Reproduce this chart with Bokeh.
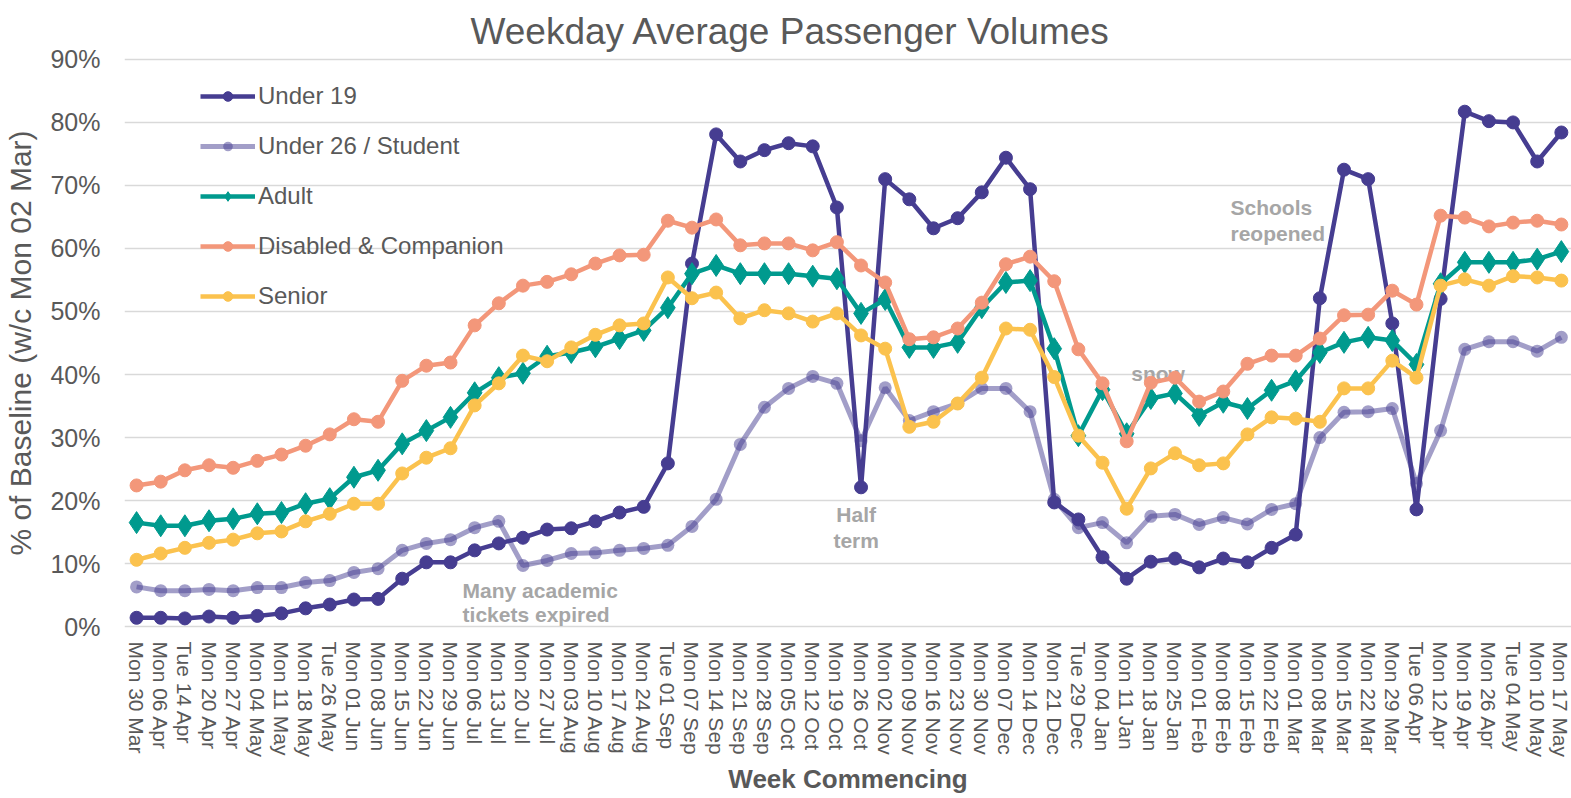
from bokeh.plotting import figure
from bokeh.models import (Range1d, FixedTicker, PrintfTickFormatter, Legend, LegendItem, Label)
from bokeh.embed import file_html
from bokeh.resources import INLINE

weeks = ["Mon 30 Mar", "Mon 06 Apr", "Tue 14 Apr", "Mon 20 Apr", "Mon 27 Apr", "Mon 04 May",
         "Mon 11 May", "Mon 18 May", "Tue 26 May", "Mon 01 Jun", "Mon 08 Jun", "Mon 15 Jun",
         "Mon 22 Jun", "Mon 29 Jun", "Mon 06 Jul", "Mon 13 Jul", "Mon 20 Jul", "Mon 27 Jul",
         "Mon 03 Aug", "Mon 10 Aug", "Mon 17 Aug", "Mon 24 Aug", "Tue 01 Sep", "Mon 07 Sep",
         "Mon 14 Sep", "Mon 21 Sep", "Mon 28 Sep", "Mon 05 Oct", "Mon 12 Oct", "Mon 19 Oct",
         "Mon 26 Oct", "Mon 02 Nov", "Mon 09 Nov", "Mon 16 Nov", "Mon 23 Nov", "Mon 30 Nov",
         "Mon 07 Dec", "Mon 14 Dec", "Mon 21 Dec", "Tue 29 Dec", "Mon 04 Jan", "Mon 11 Jan",
         "Mon 18 Jan", "Mon 25 Jan", "Mon 01 Feb", "Mon 08 Feb", "Mon 15 Feb", "Mon 22 Feb",
         "Mon 01 Mar", "Mon 08 Mar", "Mon 15 Mar", "Mon 22 Mar", "Mon 29 Mar", "Tue 06 Apr",
         "Mon 12 Apr", "Mon 19 Apr", "Mon 26 Apr", "Tue 04 May", "Mon 10 May", "Mon 17 May"]

under_19 = [1.4, 1.4, 1.3, 1.6, 1.4, 1.7, 2.1, 2.9, 3.5, 4.3, 4.4, 7.6, 10.2, 10.2, 12.1, 13.2,
            14.1, 15.4, 15.6, 16.7, 18.1, 19.0, 25.9, 57.6, 78.1, 73.8, 75.6, 76.7, 76.2, 66.5,
            22.1, 71.0, 67.8, 63.2, 64.8, 68.9, 74.4, 69.4, 19.7, 17.0, 11.0, 7.6, 10.3, 10.8,
            9.4, 10.8, 10.2, 12.5, 14.6, 52.1, 72.5, 71.0, 48.1, 18.6, 52.0, 81.7, 80.2, 80.0,
            73.8, 78.4]

under_26 = [6.3, 5.7, 5.7, 5.9, 5.7, 6.2, 6.2, 7.0, 7.3, 8.6, 9.2, 12.1, 13.2, 13.8, 15.7, 16.7,
            9.7, 10.5, 11.6, 11.7, 12.1, 12.4, 12.9, 15.9, 20.2, 28.9, 34.8, 37.8, 39.7, 38.6,
            29.5, 37.9, 32.7, 34.1, 35.4, 37.8, 37.8, 34.1, 20.2, 15.7, 16.5, 13.3, 17.5, 17.8,
            16.2, 17.3, 16.3, 18.6, 19.5, 30.0, 34.0, 34.1, 34.6, 22.7, 31.1, 44.0, 45.2, 45.2,
            43.7, 45.9]

adult = [16.5, 16.0, 16.0, 16.8, 17.1, 17.9, 18.1, 19.5, 20.3, 23.7, 24.8, 29.0, 31.1, 33.2,
         37.1, 39.5, 40.2, 42.9, 43.5, 44.4, 45.7, 47.0, 50.6, 56.0, 57.3, 56.0, 56.0, 56.0,
         55.6, 55.2, 49.7, 51.9, 44.3, 44.3, 45.1, 50.6, 54.6, 54.9, 44.1, 30.3, 37.6, 30.6,
         36.2, 37.0, 33.5, 35.6, 34.6, 37.5, 39.0, 43.5, 45.1, 45.9, 45.4, 41.6, 54.4, 57.8,
         57.8, 57.8, 58.3, 59.5]

disabled = [22.4, 23.0, 24.8, 25.6, 25.2, 26.3, 27.3, 28.7, 30.5, 32.9, 32.5, 39.0, 41.4, 41.9,
            47.8, 51.3, 54.1, 54.7, 55.9, 57.6, 58.9, 59.0, 64.4, 63.3, 64.6, 60.5, 60.8, 60.8,
            59.7, 61.0, 57.3, 54.6, 45.6, 45.9, 47.3, 51.4, 57.5, 58.7, 54.8, 44.0, 38.6, 29.4,
            38.7, 39.5, 35.7, 37.3, 41.7, 43.0, 43.0, 45.7, 49.4, 49.5, 53.3, 51.1, 65.2, 64.9,
            63.5, 64.1, 64.4, 63.8]

senior = [10.6, 11.6, 12.5, 13.3, 13.8, 14.8, 15.1, 16.7, 17.9, 19.5, 19.5, 24.3, 26.8, 28.3,
          35.1, 38.6, 43.0, 42.1, 44.3, 46.3, 47.8, 48.1, 55.4, 52.1, 53.0, 48.9, 50.2, 49.7,
          48.4, 49.7, 46.2, 44.1, 31.7, 32.5, 35.4, 39.5, 47.3, 47.1, 39.6, 30.3, 26.0, 18.7,
          25.1, 27.5, 25.6, 25.9, 30.5, 33.2, 33.0, 32.5, 37.8, 37.8, 42.2, 39.5, 54.1, 55.1,
          54.1, 55.6, 55.4, 54.9]

series_names = ["Under 19", "Under 26 / Student", "Adult", "Disabled & Companion", "Senior"]
y_ticks = [0, 10, 20, 30, 40, 50, 60, 70, 80, 90]

FONT = "Liberation Sans"
TXT = "#595959"
NOTE = "#A6A6A6"

x = list(range(len(weeks)))

p = figure(width=1571, height=798, output_backend="svg", toolbar_location=None,
           x_range=Range1d(-0.5, 59.42), y_range=Range1d(-0.3, 90.3),
           min_border_left=124, min_border_right=0, min_border_top=57, min_border_bottom=170)
p.outline_line_color = None
p.background_fill_color = "white"

p.title.text = "Weekday Average Passenger Volumes"
p.title.align = "left"
p.title.offset = 346
p.title.text_font = FONT
p.title.text_font_size = "37px"
p.title.text_font_style = "normal"
p.title.text_color = TXT
p.title.standoff = 12

# axes
p.yaxis.ticker = FixedTicker(ticks=y_ticks)
p.yaxis.formatter = PrintfTickFormatter(format="%d%%")
p.yaxis.major_label_text_font = FONT
p.yaxis.major_label_text_font_size = "25px"
p.yaxis.major_label_text_color = TXT
p.yaxis.axis_line_color = None
p.yaxis.major_tick_line_color = None
p.yaxis.minor_tick_line_color = None
p.yaxis.major_tick_out = 0
p.yaxis.major_tick_in = 0
p.yaxis.minor_tick_out = 0
p.yaxis.major_label_standoff = 24
p.yaxis.axis_label = "% of Baseline (w/c Mon 02 Mar)"
p.yaxis.axis_label_text_font = FONT
p.yaxis.axis_label_text_font_size = "30px"
p.yaxis.axis_label_text_font_style = "normal"
p.yaxis.axis_label_text_color = TXT
p.yaxis.axis_label_standoff = 10

p.xaxis.ticker = FixedTicker(ticks=x)
p.xaxis.major_label_overrides = {i: w for i, w in enumerate(weeks)}
p.xaxis.major_label_orientation = "vertical"
p.xaxis.major_label_text_font = FONT
p.xaxis.major_label_text_font_size = "21px"
p.xaxis.major_label_text_color = TXT
p.xaxis.axis_line_color = None
p.xaxis.major_tick_line_color = None
p.xaxis.minor_tick_line_color = None
p.xaxis.major_tick_out = 0
p.xaxis.major_tick_in = 0
p.xaxis.minor_tick_out = 0
p.xaxis.major_label_standoff = 13
p.xaxis.axis_label = "Week Commencing"
p.xaxis.axis_label_text_font = FONT
p.xaxis.axis_label_text_font_size = "26px"
p.xaxis.axis_label_text_font_style = "bold"
p.xaxis.axis_label_text_color = TXT
p.xaxis.axis_label_standoff = 4

p.xgrid.grid_line_color = None
p.ygrid.grid_line_color = "#D9D9D9"
p.ygrid.grid_line_width = 1.5

# annotations drawn under the lines
notes = [
    ("Many academic", 13.5, 5.7, "left"),
    ("tickets expired", 13.5, 2.0, "left"),
    ("Half", 29.8, 17.8, "center"),
    ("term", 29.8, 13.7, "center"),
    ("snow", 42.3, 40.2, "center"),
    ("Schools", 45.3, 66.5, "left"),
    ("reopened", 45.3, 62.4, "left"),
]
for t, nx, ny, al in notes:
    p.add_layout(Label(x=nx, y=ny, text=t, text_align=al, text_baseline="middle",
                       text_font=FONT, text_font_size="21px", text_font_style="bold",
                       text_color=NOTE, level="underlay"))

PURPLE = "#463D91"
TEAL = "#009A8E"
SALMON = "#F3977A"
YELLOW = "#FBC24E"

items = []
r1 = p.line(x, under_19, line_color=PURPLE, line_width=4.5)
r1m = p.scatter(x, under_19, marker="circle", size=13, fill_color=PURPLE, line_color=PURPLE)
items.append(LegendItem(label=series_names[0], renderers=[r1, r1m]))

r2 = p.line(x, under_26, line_color=PURPLE, line_alpha=0.5, line_width=5)
r2m = p.scatter(x, under_26, marker="circle", size=13, fill_color=PURPLE, fill_alpha=0.5,
                line_color=None)
items.append(LegendItem(label=series_names[1], renderers=[r2, r2m]))

r3 = p.line(x, adult, line_color=TEAL, line_width=4.5)
r3m = p.scatter(x, adult, marker="diamond", size=22, fill_color=TEAL, line_color=TEAL)
items.append(LegendItem(label=series_names[2], renderers=[r3, r3m]))

r4 = p.line(x, disabled, line_color=SALMON, line_width=4.5)
r4m = p.scatter(x, disabled, marker="circle", size=13, fill_color=SALMON, line_color=SALMON)
items.append(LegendItem(label=series_names[3], renderers=[r4, r4m]))

r5 = p.line(x, senior, line_color=YELLOW, line_width=4.5)
r5m = p.scatter(x, senior, marker="circle", size=13, fill_color=YELLOW, line_color=YELLOW)
items.append(LegendItem(label=series_names[4], renderers=[r5, r5m]))

legend = Legend(items=items, location=(76, 318), padding=0, margin=0,
                spacing=22, glyph_width=55, glyph_height=24, label_height=24,
                label_standoff=3, label_text_font=FONT, label_text_font_size="24px",
                label_text_color=TXT, border_line_color=None, background_fill_alpha=0)
p.add_layout(legend, "center")

open("out.html", "w").write(file_html(p, INLINE))
